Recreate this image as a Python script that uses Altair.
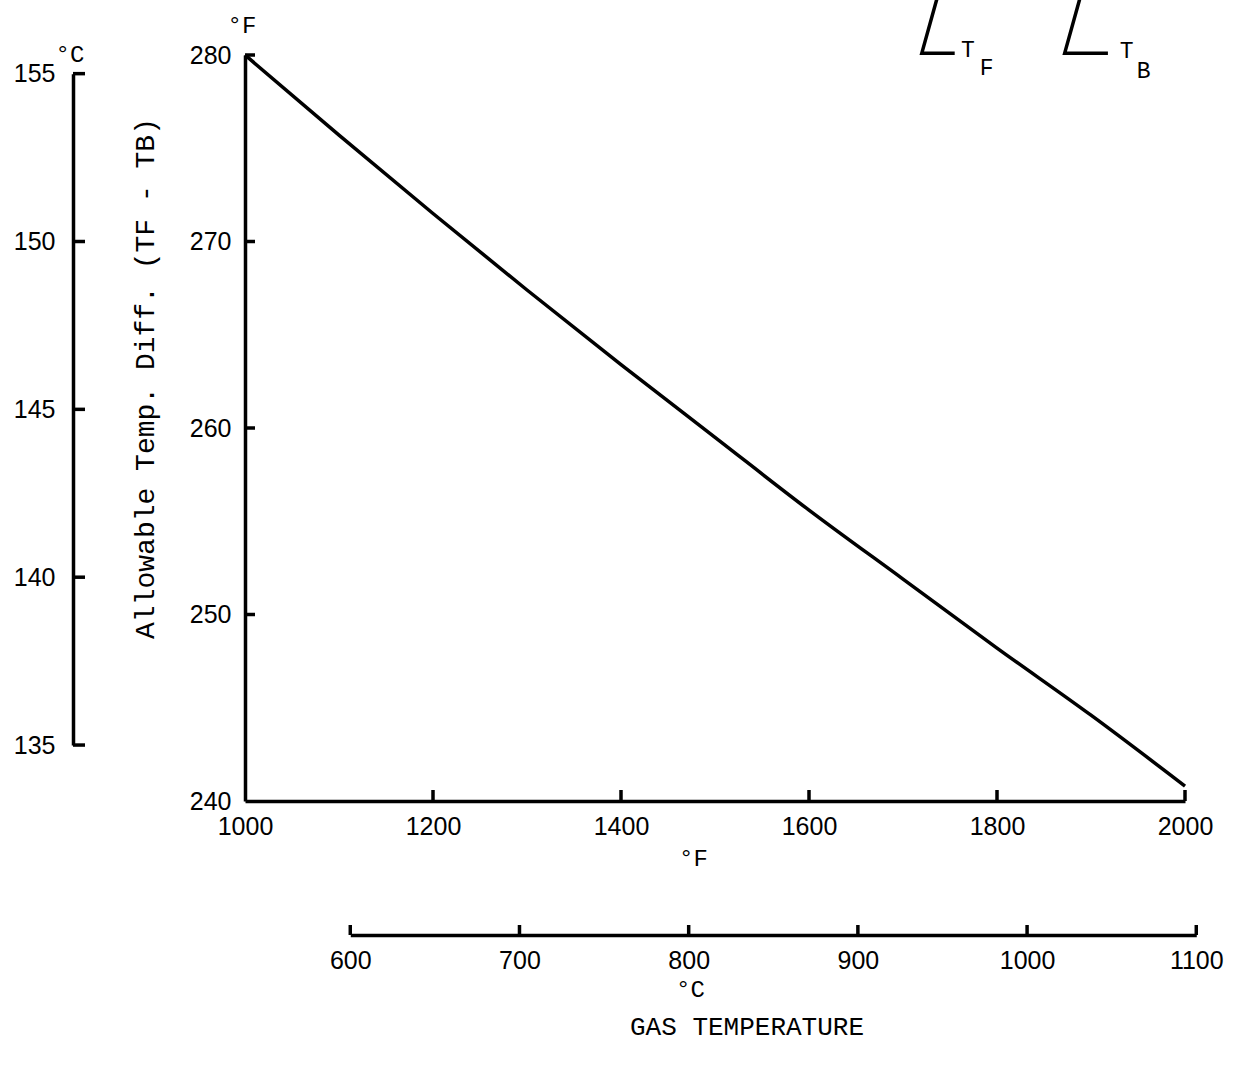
import altair as alt
import pandas as pd

# ---- data ----
gas_f = [1000, 1100, 1200, 1300, 1400, 1500, 1600, 1700, 1800, 1900, 2000]
allow_diff_f = [280.0, 275.7, 271.5, 267.4, 263.4, 259.5, 255.6, 251.9, 248.2, 244.6, 240.8]

f_x_ticks = [1000, 1200, 1400, 1600, 1800, 2000]
f_y_ticks = [240, 250, 260, 270, 280]
c_x_ticks = [600, 700, 800, 900, 1000, 1100]
c_y_ticks = [135, 140, 145, 150, 155]

# little sketch at top right (in chart units)
bracket_id = ["F", "F", "F", "B", "B", "B"]
bracket_order = [0, 1, 2, 0, 1, 2]
bracket_x = [1736, 1720, 1755, 1888, 1872, 1918]
bracket_y = [283.0, 280.1, 280.1, 283.0, 280.1, 280.1]
main_sym = ["T", "T"]
main_sym_x = [1769, 1938]
main_sym_y = [280.25, 280.2]
sub_sym = ["F", "B"]
sub_sym_x = [1789, 1956]
sub_sym_y = [279.3, 279.15]

# ---- geometry ----
LEFT, TOP, W, H = 245, 55, 940, 746
F_DOM_X = [1000, 2000]
F_DOM_Y = [240, 280]
C_LEFT_OFFSET = 172
C_BOTTOM_OFFSET = 134


def c_to_fx_px(c):
    return (c * 1.8 + 32 - F_DOM_X[0]) / (F_DOM_X[1] - F_DOM_X[0]) * W


def cdiff_to_py(c):
    return (F_DOM_Y[1] - c * 1.8) / (F_DOM_Y[1] - F_DOM_Y[0]) * H


LABEL_FONT = "Liberation Sans"
TITLE_FONT = "Liberation Mono"
LW = 3.5
LFS = 25

xs = alt.Scale(domain=F_DOM_X, nice=False, zero=False)
ys = alt.Scale(domain=F_DOM_Y, nice=False, zero=False)

main_df = pd.DataFrame({"gas": gas_f, "diff": allow_diff_f})

main_line = alt.Chart(main_df).mark_line(color="black", strokeWidth=LW,
                                         interpolate="monotone").encode(
    x=alt.X("gas:Q", scale=xs, axis=alt.Axis(
        orient="bottom", values=f_x_ticks, format="d", tickSize=0, grid=False,
        domainColor="black", domainWidth=LW,
        labelFont=LABEL_FONT, labelFontSize=LFS, labelColor="black",
        labelPadding=25, labelBaseline="middle", labelFlush=False,
        title="°F", titleFont=TITLE_FONT, titleFontSize=24, titleFontWeight="normal",
        titleColor="black", titleX=448, titleY=57, titleBaseline="middle", titleAlign="center")),
    y=alt.Y("diff:Q", scale=ys, axis=alt.Axis(
        orient="left", values=f_y_ticks, format="d", tickSize=0, grid=False,
        domainColor="black", domainWidth=LW,
        labelFont=LABEL_FONT, labelFontSize=LFS, labelColor="black",
        labelPadding=14, labelBaseline="middle", labelFlush=False,
        title="Allowable Temp. Diff. (TF  -  TB)", titleFont=TITLE_FONT, titleFontSize=28,
        titleFontWeight="normal", titleColor="black", titleAngle=270,
        titleX=-100, titleY=323, titleBaseline="middle", titleAlign="center")),
)

fx_ticks = alt.Chart(pd.DataFrame({"t": f_x_ticks[1:]})).mark_rule(
    color="black", strokeWidth=LW).encode(
    x=alt.X("t:Q", scale=xs, axis=None),
    y=alt.value(H), y2=alt.value(H - 11),
)
fy_ticks = alt.Chart(pd.DataFrame({"t": f_y_ticks[1:]})).mark_rule(
    color="black", strokeWidth=LW).encode(
    y=alt.Y("t:Q", scale=ys, axis=None),
    x=alt.value(0), x2=alt.value(10),
)

br_df = pd.DataFrame({"id": bracket_id, "o": bracket_order, "x": bracket_x, "y": bracket_y})
brackets = alt.Chart(br_df).mark_line(color="black", strokeWidth=LW).encode(
    x=alt.X("x:Q", scale=xs, axis=None),
    y=alt.Y("y:Q", scale=ys, axis=None),
    detail="id:N", order="o:Q",
)
sym_text = alt.Chart(pd.DataFrame({"lab": main_sym, "x": main_sym_x, "y": main_sym_y})).mark_text(
    font=TITLE_FONT, fontSize=23, color="black", baseline="middle", align="center").encode(
    x=alt.X("x:Q", scale=xs, axis=None),
    y=alt.Y("y:Q", scale=ys, axis=None),
    text="lab:N",
)
sub_text = alt.Chart(pd.DataFrame({"lab": sub_sym, "x": sub_sym_x, "y": sub_sym_y})).mark_text(
    font=TITLE_FONT, fontSize=23, color="black", baseline="middle", align="center").encode(
    x=alt.X("x:Q", scale=xs, axis=None),
    y=alt.Y("y:Q", scale=ys, axis=None),
    text="lab:N",
)

one = alt.Data(values=[{}])
gas_title = alt.Chart(one).mark_text(font=TITLE_FONT, fontSize=26, color="black",
                                     align="center", baseline="middle").encode(
    x=alt.value(502), y=alt.value(972), text=alt.value("GAS TEMPERATURE"))
f_unit = alt.Chart(one).mark_text(font=TITLE_FONT, fontSize=24, color="black",
                                  align="center", baseline="middle").encode(
    x=alt.value(-3), y=alt.value(-29), text=alt.value("°F"))
c_unit = alt.Chart(one).mark_text(font=TITLE_FONT, fontSize=24, color="black",
                                  align="center", baseline="middle").encode(
    x=alt.value(-175), y=alt.value(0), text=alt.value("°C"))

# ---- secondary Celsius axes ----
c_left_scale = alt.Scale(domain=[c_y_ticks[0], c_y_ticks[-1]],
                         range=[cdiff_to_py(c_y_ticks[0]), cdiff_to_py(c_y_ticks[-1])],
                         nice=False, zero=False)
c_left = alt.Chart(pd.DataFrame({"c": c_y_ticks})).mark_rule(
    color="black", strokeWidth=LW).encode(
    y=alt.Y("c:Q", scale=c_left_scale, axis=alt.Axis(
        orient="left", offset=C_LEFT_OFFSET, values=c_y_ticks, format="d", tickSize=0,
        grid=False, domainColor="black", domainWidth=LW,
        labelFont=LABEL_FONT, labelFontSize=LFS, labelColor="black",
        labelPadding=18, labelBaseline="middle", labelFlush=False, title=None)),
    x=alt.value(-C_LEFT_OFFSET), x2=alt.value(-C_LEFT_OFFSET + 12),
)

c_bottom_scale = alt.Scale(domain=[c_x_ticks[0], c_x_ticks[-1]],
                           range=[c_to_fx_px(c_x_ticks[0]), c_to_fx_px(c_x_ticks[-1])],
                           nice=False, zero=False)
c_bottom = alt.Chart(pd.DataFrame({"c": c_x_ticks})).mark_rule(
    color="black", strokeWidth=LW).encode(
    x=alt.X("c:Q", scale=c_bottom_scale, axis=alt.Axis(
        orient="bottom", offset=C_BOTTOM_OFFSET, values=c_x_ticks, format="d", tickSize=0,
        grid=False, domainColor="black", domainWidth=LW,
        labelFont=LABEL_FONT, labelFontSize=LFS, labelColor="black",
        labelPadding=25, labelBaseline="middle", labelFlush=False,
        title="°C", titleFont=TITLE_FONT, titleFontSize=24, titleFontWeight="normal",
        titleColor="black", titleX=445, titleY=54, titleBaseline="middle", titleAlign="center")),
    y=alt.value(H + C_BOTTOM_OFFSET), y2=alt.value(H + C_BOTTOM_OFFSET - 10),
)

chart = alt.layer(
    main_line, c_left, c_bottom, fx_ticks, fy_ticks, brackets, sym_text, sub_text,
    gas_title, f_unit, c_unit
).resolve_scale(
    x="independent", y="independent"
).properties(
    width=W, height=H,
    autosize=alt.AutoSizeParams(type="none"),
    padding={"left": LEFT, "top": TOP, "right": 1236 - LEFT - W, "bottom": 1066 - TOP - H},
    background="white",
).configure_view(stroke=None)

chart.save("out.html", embed_options={"renderer": "svg", "actions": False})
